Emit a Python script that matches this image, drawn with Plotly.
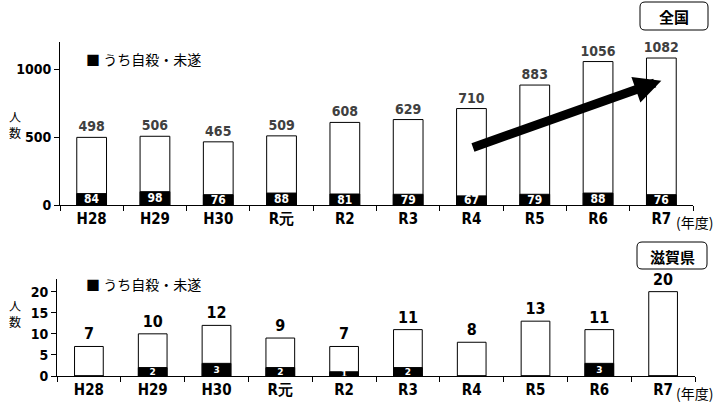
import plotly.graph_objects as go

W, H = 718, 404

years = ["H28", "H29", "H30", "R元", "R2", "R3", "R4", "R5", "R6", "R7"]

# 全国
national_total = [498, 506, 465, 509, 608, 629, 710, 883, 1056, 1082]
national_suicide = [84, 98, 76, 88, 81, 79, 67, 79, 88, 76]

# 滋賀県
shiga_total = [7, 10, 12, 9, 7, 11, 8, 13, 11, 20]
shiga_suicide = [0, 2, 3, 2, 1, 2, 0, 0, 3, 0]

FONT = "DejaVu Sans Condensed, sans-serif"
JP = "Noto Sans CJK JP, sans-serif"


def px_x(v):
    return v / W


def px_y(v):
    return 1 - v / H


def rounded_box(x0, y0, x1, y1, r=5):
    # rounded rectangle path in paper coords, input in pixels
    rx, ry = r / W, r / H
    a, b, c, d = px_x(x0), px_y(y1), px_x(x1), px_y(y0)
    return (f"M {a+rx},{b} L {c-rx},{b} Q {c},{b} {c},{b+ry} "
            f"L {c},{d-ry} Q {c},{d} {c-rx},{d} L {a+rx},{d} "
            f"Q {a},{d} {a},{d-ry} L {a},{b+ry} Q {a},{b} {a+rx},{b} Z")


fig = go.Figure()

# === 上段：全国 ===
fig.add_trace(go.Bar(
    x=years, y=national_total, xaxis="x", yaxis="y",
    marker=dict(color="white", line=dict(color="black", width=1)),
    width=0.47, text=[str(v) for v in national_total],
    textposition="outside", cliponaxis=False, constraintext="none",
    textangle=0,
    textfont=dict(family=FONT, size=14, color="#404040", weight="bold"),
    showlegend=False, hoverinfo="x+y",
))
fig.add_trace(go.Bar(
    x=years, y=national_suicide, xaxis="x", yaxis="y",
    marker=dict(color="black", line=dict(color="black", width=1)),
    width=0.47, text=[str(v) for v in national_suicide],
    textposition="inside", insidetextanchor="middle", constraintext="none",
    textangle=0,
    textfont=dict(family=FONT, size=12, color="white", weight="bold"),
    showlegend=False, hoverinfo="x+y",
))

# === 下段：滋賀県 ===
fig.add_trace(go.Bar(
    x=years, y=shiga_total, xaxis="x2", yaxis="y2",
    marker=dict(color="white", line=dict(color="black", width=1)),
    width=0.45, text=[str(v) for v in shiga_total],
    textposition="outside", cliponaxis=False, constraintext="none",
    textangle=0,
    textfont=dict(family=FONT, size=16, color="black", weight="bold"),
    showlegend=False, hoverinfo="x+y",
))
fig.add_trace(go.Bar(
    x=years, y=shiga_suicide, xaxis="x2", yaxis="y2",
    marker=dict(color="black", line=dict(color="black", width=1)),
    width=0.45, text=[str(v) if v else "" for v in shiga_suicide],
    textposition="inside", insidetextanchor="middle", constraintext="none",
    textangle=0,
    textfont=dict(family="DejaVu Sans, sans-serif", size=9, color="white", weight="bold"),
    showlegend=False, hoverinfo="x+y",
))

xaxis_common = dict(
    type="category", showline=True, linecolor="black", linewidth=1,
    ticks="outside", tickson="boundaries", ticklen=5, tickcolor="black",
    showgrid=False, zeroline=False, automargin=False,
    tickfont=dict(family=FONT, size=15, color="black", weight="bold"),
)
yaxis_common = dict(
    showline=True, linecolor="black", linewidth=1,
    ticks="outside", ticklen=5, tickcolor="black",
    showgrid=False, zeroline=False, automargin=False,
    tickfont=dict(family=FONT, size=14, color="black", weight="bold"),
)

annotations = []
for ylab, ytick, yleg in [(124, 222, 59), (313, 393, 284)]:
    annotations.append(dict(
        xref="paper", yref="paper", x=px_x(15), y=px_y(ylab),
        xanchor="center", yanchor="middle",
        text="人<br>数", showarrow=False, align="center",
        font=dict(family=JP, size=12, color="black"),
    ))
    annotations.append(dict(
        xref="paper", yref="paper", x=px_x(674), y=px_y(ytick),
        xanchor="left", yanchor="middle", text="(年度)", showarrow=False,
        font=dict(family=JP, size=14, color="black"),
    ))
    annotations.append(dict(
        xref="paper", yref="paper", x=px_x(84), y=px_y(yleg),
        xanchor="left", yanchor="middle", text="■ うち自殺・未遂", showarrow=False,
        font=dict(family=JP, size=14, color="black"),
    ))

annotations.append(dict(
    xref="paper", yref="paper", x=px_x(674), y=px_y(16),
    xanchor="center", yanchor="middle",
    text="<b>全国</b>", showarrow=False,
    font=dict(family=JP, size=15, color="black"),
))
annotations.append(dict(
    xref="paper", yref="paper", x=px_x(672), y=px_y(256),
    xanchor="center", yanchor="middle",
    text="<b>滋賀県</b>", showarrow=False,
    font=dict(family=JP, size=15, color="black"),
))

# 増加傾向の矢印
annotations.append(dict(
    xref="x", yref="y", axref="x", ayref="y",
    x=9.0, y=915, ax=6.0, ay=420, text="",
    showarrow=True, arrowhead=2, arrowsize=0.6, arrowwidth=9,
    arrowcolor="black", standoff=0,
))

fig.update_layout(
    width=W, height=H,
    margin=dict(l=0, r=0, t=0, b=0),
    plot_bgcolor="white", paper_bgcolor="white",
    barmode="overlay", bargap=0.5,
    xaxis=dict(domain=[px_x(60), px_x(693)], anchor="y", **xaxis_common),
    yaxis=dict(domain=[px_y(205), px_y(42)], anchor="x", range=[0, 1200],
               tickvals=[0, 500, 1000], **yaxis_common),
    xaxis2=dict(domain=[px_x(57), px_x(695)], anchor="y2", **xaxis_common),
    yaxis2=dict(domain=[px_y(376), px_y(279)], anchor="x2", range=[0, 23],
                tickvals=[0, 5, 10, 15, 20], **yaxis_common),
    annotations=annotations,
    shapes=[
        dict(type="path", xref="paper", yref="paper",
             path=rounded_box(640, 2, 708, 30),
             line=dict(color="black", width=1), fillcolor="white", layer="below"),
        dict(type="path", xref="paper", yref="paper",
             path=rounded_box(637, 242, 707, 269),
             line=dict(color="black", width=1), fillcolor="white", layer="below"),
    ],
)

fig.write_html("out.html", config={"displayModeBar": False},
               post_script="document.body.style.margin='0';")
